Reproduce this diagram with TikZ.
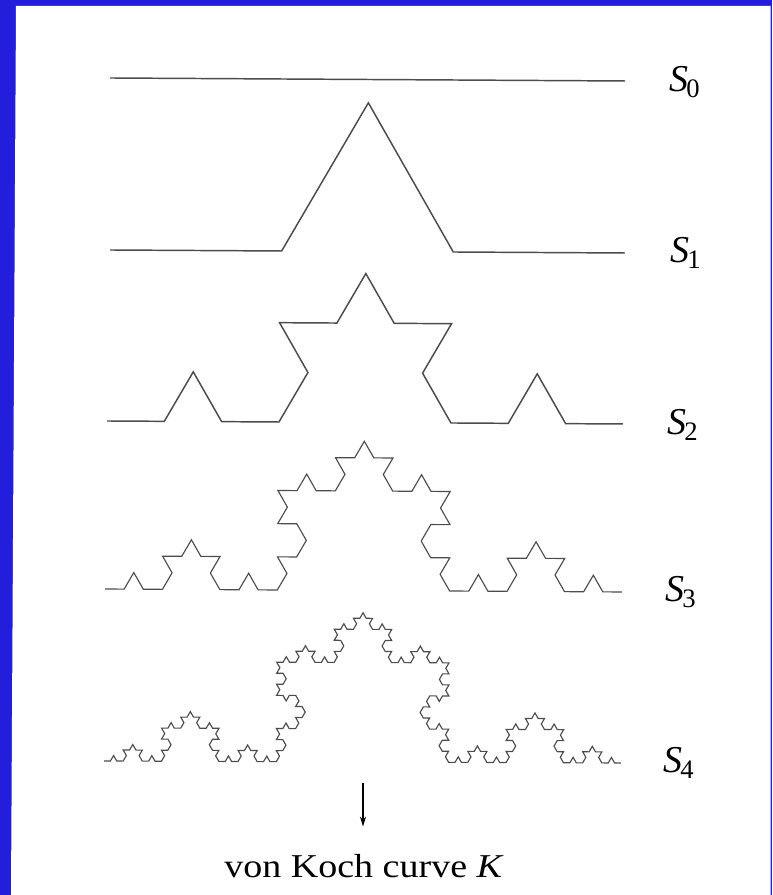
\documentclass[tikz,border=0pt]{standalone}
\usepackage{fontspec}
\setmainfont{Liberation Serif}
\usepackage{graphicx}
\usetikzlibrary{decorations.fractals,arrows.meta}
\definecolor{frameblue}{RGB}{34,30,220}
\newcommand{\Slab}[1]{\textit{S}\kern-1.5pt\raisebox{-4.5pt}{\fontsize{20}{20}\selectfont #1}}

\begin{document}
\begin{tikzpicture}[x=0.75pt,y=0.75pt,
  curve/.style={draw=black!70,line width=1.1pt,decoration=Koch snowflake},
  fine/.style={curve,line width=0.85pt},
  lbl/.style={anchor=base west,inner sep=0pt,font=\fontsize{28.5}{30}\selectfont}]
  \useasboundingbox (0,0) rectangle (772,895);
  \fill[frameblue] (0,0) rectangle (772,895);
  \fill[white] (16,889) -- (770.5,889) -- (770.5,0) -- (11,0) -- cycle;

  \coordinate (s0a) at (110,817); \coordinate (s0b) at (625,814);
  \coordinate (s1a) at (110,645); \coordinate (s1b) at (625,642);
  \coordinate (s2a) at (107,474); \coordinate (s2b) at (623,471);
  \coordinate (s3a) at (105,306); \coordinate (s3b) at (622,303);
  \coordinate (s4a) at (104,134); \coordinate (s4b) at (621,132);

  \draw[curve] (s0a) -- (s0b);
  \draw[curve] decorate{(s1a) -- (s1b)};
  \draw[curve] decorate{decorate{(s2a) -- (s2b)}};
  \draw[fine] decorate{decorate{decorate{(s3a) -- (s3b)}}};
  \draw[fine] decorate{decorate{decorate{decorate{(s4a) -- (s4b)}}}};

  \node[lbl] (lab0) at (669,803) {\Slab{0}};
  \node[lbl] (lab1) at (670,632) {\Slab{1}};
  \node[lbl] (lab2) at (667,460) {\Slab{2}};
  \node[lbl] (lab3) at (665,293) {\Slab{3}};
  \node[lbl] (lab4) at (663,122) {\Slab{4}};

  \node[anchor=base,inner sep=0pt,font=\fontsize{25}{28}\selectfont] (koch) at (364,17)
    {\scalebox{1.14}[1]{von Koch curve \textit{K}}};
  \coordinate (arrtop) at (363,112);
  \draw[-{Stealth[length=7.5pt,width=4.5pt]},line width=1.1pt,shorten >=21pt]
    (arrtop) -- (arrtop |- koch.north);
\end{tikzpicture}
\end{document}
